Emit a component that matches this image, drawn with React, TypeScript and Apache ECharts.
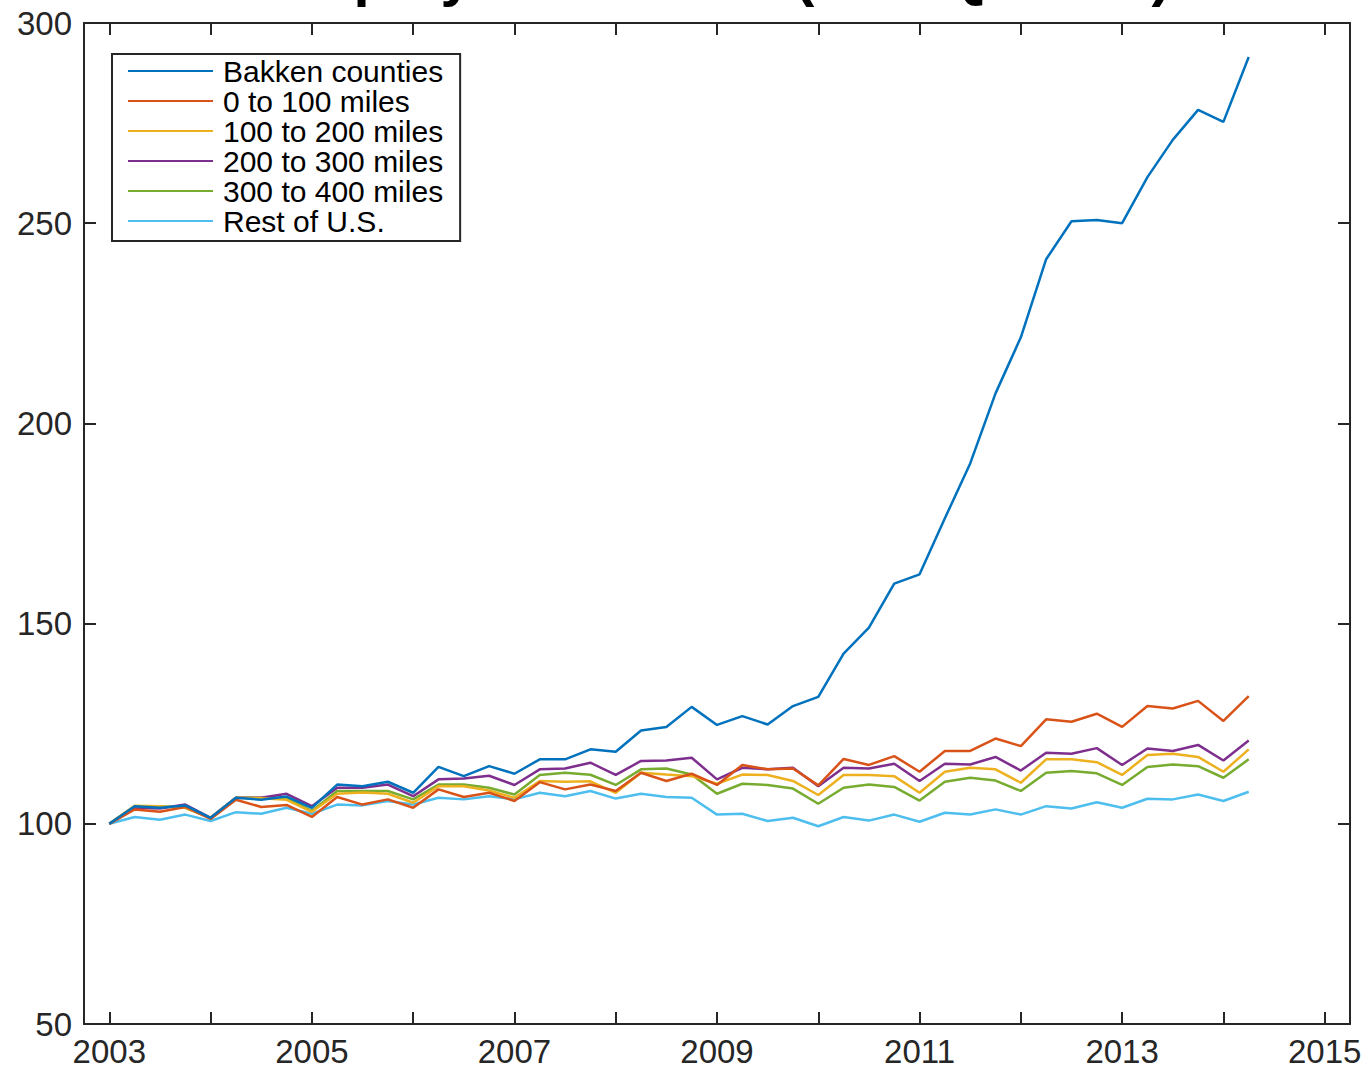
import React, { useEffect, useRef } from "react";
import * as echarts from "echarts";

const titleText = "Employment Index (2003Q1=100)";

const quarters: string[] = [];
for (let y = 2003; y <= 2014; y++) {
  for (let q = 1; q <= 4; q++) {
    if (y === 2014 && q > 2) break;
    quarters.push(`${y}Q${q}`);
  }
}

const seriesNames = [
  "Bakken counties",
  "0 to 100 miles",
  "100 to 200 miles",
  "200 to 300 miles",
  "300 to 400 miles",
  "Rest of U.S.",
];

const bakken = [
  100, 104.4, 104, 104.6, 101.5, 106.5, 106, 106.8, 104, 109.8,
  109.4, 110.5, 107.75, 114.2, 111.9, 114.4, 112.5, 116.1, 116.1, 118.6,
  118, 123.3, 124.2, 129.2, 124.7, 126.9, 124.8, 129.4, 131.7, 142.5,
  149, 160, 162.3, 176.3, 190, 207.5, 221.5, 241, 250.5, 250.8,
  250, 261.5, 270.8, 278.3, 275.3, 291.5,
];
const miles0to100 = [
  100, 103.6, 103, 104.2, 101.2, 106, 104.2, 104.7, 101.7, 106.7,
  104.8, 106.1, 104, 108.6, 106.7, 107.75, 105.7, 110.4, 108.6, 109.8,
  108.2, 112.75, 110.7, 112.5, 109.7, 114.7, 113.6, 113.8, 109.6, 116.2,
  114.7, 116.9, 113, 118.2, 118.2, 121.3, 119.4, 126.1, 125.5, 127.5,
  124.2, 129.4, 128.8, 130.7, 125.7, 131.9,
];
const miles100to200 = [
  100, 104.5, 104.4, 104, 101.5, 106.5, 106.4, 106, 103, 107.5,
  107.8, 107.5, 105.25, 109.4, 109.4, 108.3, 106.5, 110.7, 110.5, 110.6,
  107.75, 112.75, 112.3, 111.9, 110, 112.3, 112.2, 110.7, 107.2, 112.2,
  112.2, 111.9, 107.75, 113, 114, 113.6, 110.25, 116.1, 116.1, 115.4,
  112.2, 117.2, 117.5, 116.7, 113, 118.6,
];
const miles200to300 = [
  100, 104, 103.8, 104.8, 101.5, 106.5, 106.5, 107.5, 104.4, 109,
  109, 109.8, 106.9, 111.1, 111.3, 112, 109.7, 113.6, 113.8, 115.25,
  112.2, 115.7, 115.8, 116.5, 111.1, 114, 113.6, 114, 109.4, 114,
  113.8, 115, 110.7, 115, 114.8, 116.7, 113.3, 117.75, 117.5, 118.9,
  114.7, 118.8, 118.2, 119.7, 115.8, 120.8,
];
const miles300to400 = [
  100, 104.4, 104.4, 104, 101.5, 106.5, 106.5, 106.5, 103.2, 108.2,
  108.2, 108.2, 106.1, 109.8, 109.8, 109, 107.3, 112.2, 112.75, 112.25,
  109.7, 113.6, 113.8, 112.3, 107.5, 110, 109.7, 108.8, 105, 109,
  109.8, 109.2, 105.8, 110.5, 111.5, 110.8, 108.2, 112.75, 113.2, 112.6,
  109.7, 114.2, 114.8, 114.4, 111.5, 116.1,
];
const restOfUS = [
  100, 101.7, 101, 102.3, 100.7, 102.9, 102.5, 104, 102.5, 104.8,
  104.6, 105.7, 104.8, 106.5, 106.1, 106.9, 106.1, 107.75, 106.9, 108.2,
  106.3, 107.5, 106.7, 106.5, 102.3, 102.5, 100.7, 101.5, 99.4, 101.7,
  100.8, 102.3, 100.5, 102.75, 102.3, 103.6, 102.3, 104.4, 103.8, 105.4,
  104, 106.25, 106.1, 107.3, 105.7, 108,
];

const xTickYears = [2003, 2004, 2005, 2006, 2007, 2008, 2009, 2010, 2011, 2012, 2013, 2014, 2015];
const xLabelYears = [2003, 2005, 2007, 2009, 2011, 2013, 2015];
const yTicks = [50, 100, 150, 200, 250, 300];

const colors = ["#0072BD", "#D95319", "#EDB120", "#7E2F8E", "#77AC30", "#4DBEEE"];
const allValues = [bakken, miles0to100, miles100to200, miles200to300, miles300to400, restOfUS];

function quarterToYear(q: string): number {
  const y = parseInt(q.slice(0, 4), 10);
  const n = parseInt(q.slice(5), 10);
  return y + (n - 1) / 4;
}

const FONT = "'Liberation Sans', Arial, Helvetica, sans-serif";
const AXIS_COLOR = "#262626";

export default function App() {
  const ref = useRef<HTMLDivElement>(null);
  useEffect(() => {
    if (!ref.current) return;
    const chart = echarts.init(ref.current, undefined, { renderer: "svg" });
    const xs = quarters.map(quarterToYear);
    const axisLine = { show: true, lineStyle: { color: AXIS_COLOR, width: 2 } };
    const tick = { show: true, inside: true, length: 12, lineStyle: { color: AXIS_COLOR, width: 2 } };
    const option: any = {
      animation: false,
      backgroundColor: "#ffffff",
      grid: { left: 84, right: 20, top: 23, bottom: 46, containLabel: false },
      graphic: [
        {
          type: "text",
          x: 717,
          y: -26,
          style: {
            text: titleText,
            font: `bold 58px ${FONT}`,
            fill: "#000",
            align: "center",
            verticalAlign: "middle",
          },
          z: 100,
        },
      ],
      legend: {
        orient: "vertical",
        left: 112,
        top: 54,
        padding: [2, 17, 5, 16],
        borderColor: AXIS_COLOR,
        borderWidth: 2,
        backgroundColor: "#fff",
        icon: "rect",
        itemWidth: 85,
        itemHeight: 2,
        itemGap: 0,
        selectedMode: false,
        data: seriesNames,
        textStyle: {
          fontFamily: FONT,
          fontSize: 30,
          color: "#000",
          lineHeight: 30,
          padding: [0, 0, 0, 5],
        },
      },
      xAxis: [
        {
          type: "value",
          min: 2002.75,
          max: 2015.25,
          axisLine,
          axisTick: { ...tick, customValues: xTickYears },
          axisLabel: {
            customValues: xLabelYears,
            formatter: (v: number) => String(v),
            fontFamily: FONT,
            fontSize: 33,
            color: AXIS_COLOR,
            margin: 11,
          },
          splitLine: { show: false },
        },
        {
          type: "value",
          position: "top",
          min: 2002.75,
          max: 2015.25,
          axisLine,
          axisTick: { ...tick, customValues: xTickYears },
          axisLabel: { show: false },
          splitLine: { show: false },
        },
      ],
      yAxis: [
        {
          type: "value",
          min: 50,
          max: 300,
          interval: 50,
          axisLine,
          axisTick: { ...tick, customValues: yTicks },
          axisLabel: {
            customValues: yTicks,
            fontFamily: FONT,
            fontSize: 33,
            color: AXIS_COLOR,
            margin: 12,
          },
          splitLine: { show: false },
        },
        {
          type: "value",
          position: "right",
          min: 50,
          max: 300,
          interval: 50,
          axisLine,
          axisTick: { ...tick, customValues: yTicks },
          axisLabel: { show: false },
          splitLine: { show: false },
        },
      ],
      series: seriesNames.map((name, i) => ({
        name,
        type: "line",
        xAxisIndex: 0,
        yAxisIndex: 0,
        symbol: "none",
        showSymbol: false,
        color: colors[i],
        lineStyle: { color: colors[i], width: 2.5 },
        data: xs.map((x, k) => [x, allValues[i][k]]),
        z: 10 - i,
      })),
    };
    chart.setOption(option);
    return () => chart.dispose();
  }, []);
  return (
    <div
      ref={ref}
      style={{ position: "fixed", left: 0, top: 0, width: 1370, height: 1070, background: "#fff" }}
    />
  );
}
